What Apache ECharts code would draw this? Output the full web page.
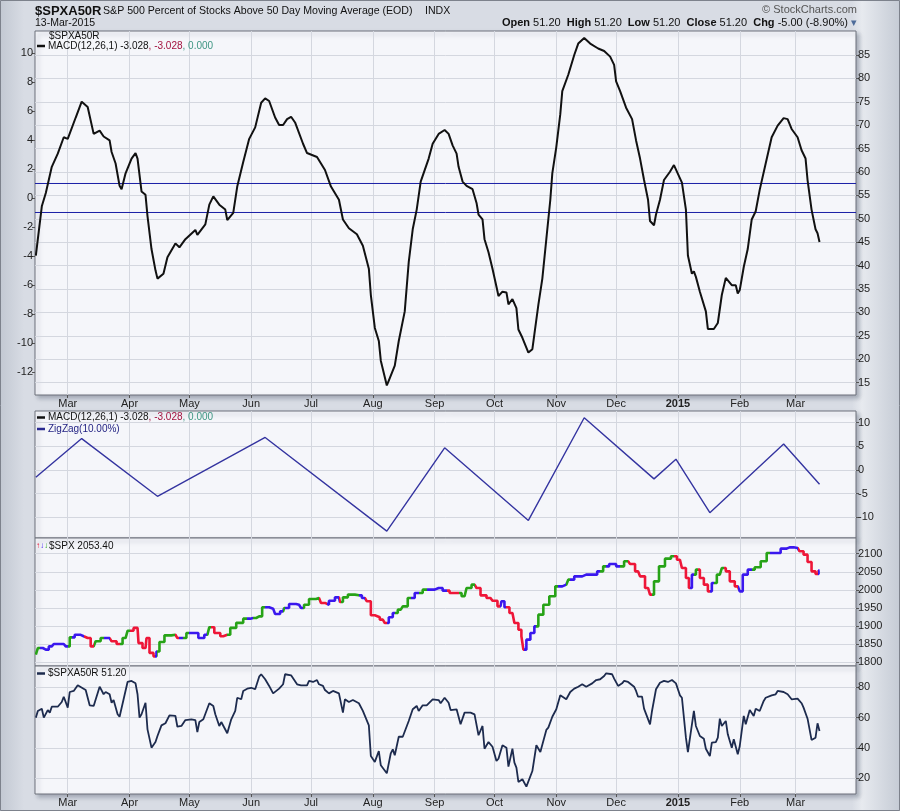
<!DOCTYPE html>
<html><head><meta charset="utf-8">
<script src="https://cdn.jsdelivr.net/npm/echarts@6/dist/echarts.min.js"></script>
<style>
html,body{margin:0;padding:0;}
#c{width:900px;height:811px;background:linear-gradient(to right,#c2c8d2 0px,#d8dce4 24px,#d8dce4 852px,#e7eaef 862px,#c5cbd5 900px);}
</style></head><body><div id="c"></div>
<script>
// ---------- tick labels ----------
const monthTicks = ['2014-03-01','2014-04-01','2014-05-01','2014-06-01','2014-07-01','2014-08-01','2014-09-01','2014-10-01','2014-11-01','2014-12-01','2015-01-01','2015-02-01','2015-03-01'];
const monthNames = ['Jan','Feb','Mar','Apr','May','Jun','Jul','Aug','Sep','Oct','Nov','Dec'];
const macdTicks = [-12,-10,-8,-6,-4,-2,0,2,4,6,8,10];
const pctTicksTop = [15,20,25,30,35,40,45,50,55,60,65,70,75,80,85];
const zigTicks = [-10,-5,0,5,10];
const spxTicks = [1800,1850,1900,1950,2000,2050,2100];
const pctTicks = [20,40,60,80];
const macdLevels = [1, -1];

// ---------- MACD(12,26,1) of $SPXA50R ----------
const macdDates = ['2014-02-13','2014-02-16','2014-02-18','2014-02-21','2014-02-24','2014-02-27','2014-03-01','2014-03-05','2014-03-08','2014-03-11','2014-03-14','2014-03-15','2014-03-17','2014-03-19','2014-03-22','2014-03-23','2014-03-25','2014-03-27','2014-03-28','2014-03-30','2014-04-02','2014-04-04','2014-04-05','2014-04-07','2014-04-09','2014-04-10','2014-04-12','2014-04-14','2014-04-15','2014-04-18','2014-04-20','2014-04-24','2014-04-26','2014-04-29','2014-05-04','2014-05-05','2014-05-09','2014-05-11','2014-05-13','2014-05-14','2014-05-16','2014-05-19','2014-05-20','2014-05-21','2014-05-23','2014-05-25','2014-05-28','2014-05-31','2014-06-03','2014-06-06','2014-06-08','2014-06-10','2014-06-13','2014-06-15','2014-06-17','2014-06-19','2014-06-21','2014-06-23','2014-06-27','2014-06-29','2014-07-04','2014-07-08','2014-07-11','2014-07-15','2014-07-17','2014-07-20','2014-07-24','2014-07-27','2014-07-30','2014-07-31','2014-08-02','2014-08-04','2014-08-05','2014-08-08','2014-08-09','2014-08-12','2014-08-14','2014-08-17','2014-08-19','2014-08-21','2014-08-23','2014-08-25','2014-08-29','2014-08-31','2014-09-03','2014-09-04','2014-09-06','2014-09-08','2014-09-10','2014-09-12','2014-09-13','2014-09-15','2014-09-17','2014-09-20','2014-09-22','2014-09-23','2014-09-25','2014-09-26','2014-09-28','2014-09-30','2014-10-02','2014-10-03','2014-10-05','2014-10-07','2014-10-08','2014-10-10','2014-10-12','2014-10-13','2014-10-15','2014-10-18','2014-10-20','2014-10-21','2014-10-23','2014-10-25','2014-10-27','2014-10-29','2014-10-30','2014-11-01','2014-11-03','2014-11-04','2014-11-07','2014-11-10','2014-11-12','2014-11-15','2014-11-18','2014-11-22','2014-11-25','2014-11-28','2014-11-30','2014-12-01','2014-12-03','2014-12-06','2014-12-09','2014-12-11','2014-12-13','2014-12-15','2014-12-17','2014-12-18','2014-12-20','2014-12-21','2014-12-23','2014-12-25','2014-12-28','2014-12-30','2014-12-31','2015-01-03','2015-01-05','2015-01-06','2015-01-08','2015-01-09','2015-01-10','2015-01-12','2015-01-15','2015-01-16','2015-01-19','2015-01-21','2015-01-23','2015-01-25','2015-01-26','2015-01-28','2015-01-30','2015-01-31','2015-02-01','2015-02-03','2015-02-05','2015-02-07','2015-02-09','2015-02-11','2015-02-14','2015-02-17','2015-02-20','2015-02-23','2015-02-25','2015-02-27','2015-03-02','2015-03-04','2015-03-06','2015-03-07','2015-03-09','2015-03-11','2015-03-12','2015-03-13'];
const macdValues = [-3.97,-0.57,0.34,2.15,3.06,4.19,4.08,5.55,6.64,6.28,4.42,4.31,4.65,4.24,3.97,3.17,2.38,0.84,0.61,1.70,2.72,3.10,2.72,0.45,0.22,-1.25,-3.52,-4.99,-5.56,-5.22,-4.08,-3.13,-3.40,-2.84,-2.20,-2.54,-1.82,-0.46,0.11,0.11,-0.46,-0.80,-1.52,-1.54,-1.02,0.79,2.49,4.08,4.87,6.57,6.87,6.69,5.55,5.03,5.03,5.44,5.60,5.21,3.74,3.10,2.83,1.93,0.79,-0.12,-1.48,-2.09,-2.50,-3.29,-4.88,-6.69,-8.96,-9.86,-11.22,-12.93,-12.59,-11.56,-9.86,-7.82,-4.42,-2.16,-0.80,1.13,2.72,3.74,4.42,4.46,4.69,4.42,3.63,3.06,2.15,1.13,0.84,0.61,-0.34,-1.14,-1.48,-2.84,-3.74,-4.88,-6.12,-6.76,-6.46,-6.51,-7.33,-6.97,-7.60,-9.07,-9.64,-10.66,-10.43,-9.41,-7.37,-5.56,-2.84,-0.12,1.70,3.51,5.78,7.37,8.50,9.86,10.65,11.04,10.65,10.31,10.14,9.75,9.18,8.05,7.37,6.23,5.44,3.97,2.72,1.24,-0.12,-1.59,-1.88,-1.14,-0.12,1.24,1.81,2.27,2.27,1.06,-0.80,-3.97,-5.22,-5.06,-5.44,-6.46,-7.82,-9.03,-9.03,-8.62,-6.69,-5.51,-5.51,-6.01,-6.01,-6.58,-6.35,-4.76,-3.52,-1.48,-0.91,0.56,2.38,4.19,4.99,5.51,5.44,4.76,4.19,3.29,2.72,1.24,-0.80,-2.16,-2.43,-3.03];

// ---------- ZigZag(10%) of the MACD ----------
const zigDates = ['2014-02-13','2014-03-08','2014-04-15','2014-06-08','2014-08-08','2014-09-06','2014-10-18','2014-11-15','2014-12-20','2014-12-31','2015-01-17','2015-02-23','2015-03-13'];
const zigValues = [-1.55,6.64,-5.56,6.87,-12.93,4.69,-10.66,11.04,-1.88,2.27,-9.03,5.51,-3.03];

// ---------- $SPX (impulse: u = up, d = down, n = neutral) ----------
const spxDates = ['2014-02-13','2014-02-15','2014-02-18','2014-02-21','2014-02-23','2014-02-27','2014-03-01','2014-03-03','2014-03-06','2014-03-09','2014-03-11','2014-03-14','2014-03-16','2014-03-19','2014-03-22','2014-03-24','2014-03-27','2014-03-30','2014-04-01','2014-04-05','2014-04-06','2014-04-09','2014-04-10','2014-04-12','2014-04-14','2014-04-15','2014-04-17','2014-04-20','2014-04-24','2014-04-26','2014-04-28','2014-05-01','2014-05-04','2014-05-07','2014-05-10','2014-05-12','2014-05-15','2014-05-18','2014-05-20','2014-05-23','2014-05-26','2014-05-30','2014-06-02','2014-06-05','2014-06-08','2014-06-12','2014-06-14','2014-06-17','2014-06-18','2014-06-22','2014-06-25','2014-06-27','2014-06-28','2014-07-02','2014-07-05','2014-07-07','2014-07-09','2014-07-11','2014-07-15','2014-07-16','2014-07-18','2014-07-21','2014-07-25','2014-07-28','2014-07-30','2014-08-01','2014-08-03','2014-08-06','2014-08-08','2014-08-10','2014-08-12','2014-08-15','2014-08-17','2014-08-20','2014-08-24','2014-08-28','2014-08-30','2014-09-03','2014-09-07','2014-09-10','2014-09-13','2014-09-16','2014-09-18','2014-09-21','2014-09-23','2014-09-25','2014-09-29','2014-10-01','2014-10-04','2014-10-05','2014-10-07','2014-10-10','2014-10-12','2014-10-14','2014-10-15','2014-10-16','2014-10-18','2014-10-20','2014-10-22','2014-10-24','2014-10-27','2014-10-30','2014-11-02','2014-11-06','2014-11-08','2014-11-12','2014-11-16','2014-11-20','2014-11-23','2014-11-26','2014-11-29','2014-12-03','2014-12-07','2014-12-09','2014-12-12','2014-12-14','2014-12-17','2014-12-19','2014-12-21','2014-12-24','2014-12-27','2014-12-30','2015-01-02','2015-01-04','2015-01-06','2015-01-07','2015-01-09','2015-01-11','2015-01-13','2015-01-15','2015-01-17','2015-01-19','2015-01-22','2015-01-24','2015-01-26','2015-01-28','2015-01-31','2015-02-02','2015-02-03','2015-02-07','2015-02-10','2015-02-13','2015-02-16','2015-02-20','2015-02-23','2015-02-26','2015-03-02','2015-03-04','2015-03-06','2015-03-08','2015-03-10','2015-03-12','2015-03-13'];
const spxClose = [1821,1839.5,1835,1844,1850.6,1850.6,1844,1869,1876,1872,1867,1844,1858,1867,1867,1858,1850.6,1867,1887,1895,1853,1839.5,1867,1826,1816.5,1830,1856,1874.5,1876,1867,1867,1881,1881,1867,1876,1897,1881,1872,1876,1895,1909,1920.6,1922.4,1927,1952,1948.2,1933.5,1940.8,1950,1961,1959,1950,1959,1975,1977.7,1964,1959,1970,1979.5,1966.6,1979.5,1987,1985,1977.7,1968.5,1929.8,1924.3,1917.8,1908.6,1924.3,1936.2,1945.4,1954.6,1977.7,1991.5,2000.7,2000.7,2005.3,1998,1991.5,1991.5,1982.3,2005.3,2014.5,2005.3,1985,1977.7,1970,1954.6,1968.5,1952,1936.2,1908.6,1890,1871.8,1835,1862.6,1881,1899.4,1931.6,1959,1982.3,2009.9,2014.5,2028.3,2037.5,2042.1,2042.1,2051.3,2065.1,2071.6,2065.1,2079,2071.6,2051.3,2037.5,2005.3,1986.9,2023.7,2065.1,2086.3,2092.8,2083.5,2060.5,2033,2005.3,2042.1,2055.9,2033,2014.5,1996,2019,2042.1,2060.5,2051.3,2023.7,2009.9,1996,2042.1,2055.9,2062.4,2079,2102,2102,2114,2117.6,2115.8,2106.6,2097.4,2077.1,2051.3,2044,2053.4];
const spxImpulse = ['u','u','n','n','n','n','n','u','n','n','d','d','u','u','n','d','d','u','u','d','d','d','d','d','d','n','u','u','u','d','n','u','n','n','n','u','d','d','d','u','u','u','n','u','u','n','n','n','u','n','n','n','u','u','u','d','d','n','n','d','u','u','u','n','d','d','d','d','d','n','n','u','u','u','n','u','n','n','n','d','d','u','u','u','d','d','d','d','d','n','n','d','d','d','d','d','n','n','n','u','u','u','u','n','u','n','n','n','n','u','n','n','u','d','d','d','d','d','u','u','u','u','d','d','d','d','n','u','d','d','d','n','u','u','d','d','d','n','n','n','u','u','u','n','n','n','n','d','d','d','d','d','n'];

// ---------- $SPXA50R ----------
const pctDates = ['2014-02-13','2014-02-14','2014-02-16','2014-02-17','2014-02-19','2014-02-20','2014-02-21','2014-02-24','2014-02-26','2014-02-27','2014-03-01','2014-03-02','2014-03-04','2014-03-06','2014-03-07','2014-03-10','2014-03-12','2014-03-14','2014-03-17','2014-03-19','2014-03-20','2014-03-22','2014-03-23','2014-03-24','2014-03-26','2014-03-27','2014-03-31','2014-04-02','2014-04-04','2014-04-05','2014-04-06','2014-04-07','2014-04-09','2014-04-10','2014-04-12','2014-04-14','2014-04-15','2014-04-17','2014-04-19','2014-04-21','2014-04-24','2014-04-25','2014-04-27','2014-04-29','2014-05-02','2014-05-04','2014-05-05','2014-05-06','2014-05-08','2014-05-09','2014-05-11','2014-05-13','2014-05-14','2014-05-16','2014-05-17','2014-05-18','2014-05-20','2014-05-22','2014-05-24','2014-05-25','2014-05-27','2014-05-28','2014-05-30','2014-06-01','2014-06-03','2014-06-05','2014-06-06','2014-06-08','2014-06-10','2014-06-12','2014-06-15','2014-06-17','2014-06-18','2014-06-21','2014-06-24','2014-06-26','2014-06-27','2014-06-29','2014-06-30','2014-07-02','2014-07-04','2014-07-05','2014-07-07','2014-07-08','2014-07-10','2014-07-12','2014-07-15','2014-07-16','2014-07-17','2014-07-18','2014-07-20','2014-07-22','2014-07-25','2014-07-27','2014-07-30','2014-07-31','2014-08-02','2014-08-04','2014-08-05','2014-08-06','2014-08-08','2014-08-10','2014-08-11','2014-08-12','2014-08-14','2014-08-16','2014-08-19','2014-08-21','2014-08-23','2014-08-24','2014-08-26','2014-08-28','2014-08-31','2014-09-03','2014-09-04','2014-09-06','2014-09-08','2014-09-09','2014-09-12','2014-09-14','2014-09-15','2014-09-16','2014-09-17','2014-09-19','2014-09-21','2014-09-23','2014-09-25','2014-09-26','2014-09-28','2014-09-30','2014-10-02','2014-10-03','2014-10-05','2014-10-07','2014-10-08','2014-10-10','2014-10-11','2014-10-12','2014-10-13','2014-10-15','2014-10-17','2014-10-18','2014-10-20','2014-10-22','2014-10-24','2014-10-27','2014-10-28','2014-10-30','2014-10-31','2014-11-01','2014-11-03','2014-11-04','2014-11-06','2014-11-08','2014-11-10','2014-11-12','2014-11-14','2014-11-16','2014-11-19','2014-11-21','2014-11-23','2014-11-25','2014-11-26','2014-11-29','2014-11-30','2014-12-02','2014-12-04','2014-12-05','2014-12-07','2014-12-08','2014-12-10','2014-12-11','2014-12-12','2014-12-14','2014-12-15','2014-12-18','2014-12-19','2014-12-21','2014-12-23','2014-12-25','2014-12-27','2014-12-29','2014-12-31','2015-01-02','2015-01-03','2015-01-05','2015-01-06','2015-01-09','2015-01-10','2015-01-12','2015-01-14','2015-01-15','2015-01-17','2015-01-18','2015-01-20','2015-01-21','2015-01-22','2015-01-23','2015-01-25','2015-01-26','2015-01-28','2015-01-29','2015-01-31','2015-02-01','2015-02-03','2015-02-04','2015-02-06','2015-02-08','2015-02-09','2015-02-11','2015-02-13','2015-02-14','2015-02-17','2015-02-19','2015-02-20','2015-02-23','2015-02-25','2015-02-27','2015-02-28','2015-03-02','2015-03-04','2015-03-05','2015-03-06','2015-03-07','2015-03-08','2015-03-09','2015-03-11','2015-03-12','2015-03-13'];
const pctValues = [60.0,64.4,65.9,60.0,65.0,63.3,67.2,67.2,70.3,73.8,66.6,76.9,77.6,81.3,80.9,78.2,68.1,67.7,80.4,75.4,76.9,75.4,69.8,71.6,62.2,60.6,83.5,84.2,82.6,75.4,60.0,62.2,69.8,52.3,40.2,43.9,47.9,54.9,56.3,61.5,61.1,54.0,54.5,58.4,58.9,58.4,50.5,57.1,58.9,59.3,69.5,67.7,62.2,54.5,57.1,57.1,49.7,58.9,64.4,73.1,72.1,77.6,79.1,79.7,78.7,87.0,88.6,85.3,80.9,76.0,79.1,82.0,88.6,87.9,82.0,81.3,80.4,81.3,84.2,83.5,84.8,82.0,80.9,78.2,76.0,77.6,76.0,75.4,63.3,72.1,70.3,71.6,69.5,64.4,54.9,34.7,30.8,38.0,28.6,29.2,23.3,36.5,39.1,35.2,47.4,47.4,57.8,65.5,67.7,64.4,68.1,68.1,72.1,71.6,69.5,73.1,69.8,65.0,65.5,55.6,56.7,63.3,62.2,63.3,62.2,48.4,54.5,39.5,43.9,40.8,31.4,32.9,41.8,40.2,27.7,39.5,30.3,27.0,17.6,19.4,14.5,14.5,24.8,41.8,37.3,51.9,53.4,60.6,61.1,65.5,74.7,76.0,72.1,76.9,79.1,80.4,82.0,80.4,82.6,84.8,85.3,87.4,89.2,88.6,85.7,80.9,82.6,84.2,83.5,84.2,80.4,77.6,73.8,73.8,65.9,55.6,64.4,78.7,83.0,84.2,83.5,84.8,82.6,74.7,73.1,46.8,37.3,64.4,54.5,47.9,46.1,39.5,34.7,43.5,43.9,46.8,59.3,54.5,57.8,49.0,40.2,45.7,35.8,41.3,61.1,55.6,65.0,61.1,65.9,64.4,71.0,73.1,74.7,75.4,77.6,76.9,75.4,72.1,71.0,72.5,69.5,66.6,67.2,59.3,60.0,45.3,46.8,56.3,51.2];

// ---------- build ----------
const FONT = '"Liberation Sans", Arial, sans-serif';
const ts = s => Date.parse(s + 'T00:00:00Z');
const pairs = (d, v) => d.map((s, i) => [ts(s), v[i]]);
const xMin = Date.UTC(2014, 1, 12, 14);
const xMax = Date.UTC(2015, 2, 31, 7);
const monthTs = monthTicks.map(ts);

function xAxisFor(g, showLabels) {
  return {
    type: 'value', gridIndex: g, min: xMin, max: xMax, position: 'bottom',
    axisLine: { show: false, onZero: false },
    axisTick: { show: showLabels, customValues: monthTs, length: 3, lineStyle: { color: '#555' } },
    axisLabel: {
      show: showLabels, customValues: monthTs, margin: 3, fontSize: 11, color: '#222', fontFamily: FONT,
      formatter: v => { const d = new Date(v); const m = d.getUTCMonth(); return m === 0 ? '{b|' + d.getUTCFullYear() + '}' : monthNames[m]; },
      rich: { b: { fontWeight: 'bold', fontSize: 11, fontFamily: FONT, color: '#222' } }
    },
    splitLine: { show: true, lineStyle: { color: '#d4d7df', width: 1 } }
  };
}
function yAxisFor(g, pos, min, max, ticks, split) {
  return {
    type: 'value', gridIndex: g, position: pos, min: min, max: max,
    axisLine: { show: false, onZero: false },
    axisTick: { show: true, customValues: ticks, length: 3, lineStyle: { color: '#555' } },
    axisLabel: { customValues: ticks, margin: 2, fontSize: 11, color: '#222', fontFamily: FONT, formatter: v => String(v) },
    splitLine: { show: split, lineStyle: { color: '#d4d7df', width: 1 } }
  };
}
const gridBase = { show: true, backgroundColor: '#f5f6fa', borderColor: '#6c707a', borderWidth: 1,
  shadowColor: 'rgba(70,80,100,0.35)', shadowBlur: 4, shadowOffsetX: 3, shadowOffsetY: 3,
  containLabel: false, outerBoundsMode: 'none' };

const impulseColor = { u: '#27a317', d: '#ee1638', n: '#3a18ee' };
const pieces = [];
spxDates.forEach((s, i) => {
  const t = ts(s), c = impulseColor[spxImpulse[i]];
  const prev = i ? ts(spxDates[i - 1]) : xMin - 1;
  if (pieces.length && pieces[pieces.length - 1].color === c) pieces[pieces.length - 1].lte = t;
  else pieces.push({ gt: prev, lte: t, color: c });
});
pieces[pieces.length - 1].lte = xMax + 1;

const legendRich = {
  r: { fill: '#a3123f', font: '10px ' + FONT },
  g: { fill: '#3f9683', font: '10px ' + FONT }
};
const dash = (y, color) => ({ type: 'line', shape: { x1: 37, y1: y, x2: 45, y2: y }, style: { stroke: color, lineWidth: 2.5 }, z: 100 });
const txt = (x, y, text, extra) => ({ type: 'text', z: 100, style: Object.assign({ x: x, y: y, text: text, font: '10px ' + FONT, fill: '#111', textVerticalAlign: 'middle' }, extra || {}) });
const NAVY = '#1a1fa6';

const levelSeries = macdLevels.map(v => ({
  type: 'line', xAxisIndex: 0, yAxisIndex: 0, data: [[xMin, v], [xMax, v]], symbol: 'none', z: 2,
  silent: true, color: NAVY, lineStyle: { color: NAVY, width: 1 }
}));

const chart = echarts.init(document.getElementById('c'), null, { renderer: 'canvas' });
chart.setOption({
  animation: false,
  backgroundColor: 'transparent',
  grid: [
    Object.assign({ left: 35, top: 31, width: 821, height: 364 }, gridBase),
    Object.assign({ left: 35, top: 411, width: 821, height: 127 }, gridBase),
    Object.assign({ left: 35, top: 538, width: 821, height: 128 }, gridBase),
    Object.assign({ left: 35, top: 666, width: 821, height: 128 }, gridBase)
  ],
  xAxis: [xAxisFor(0, true), xAxisFor(1, false), xAxisFor(2, false), xAxisFor(3, true)],
  yAxis: [
    yAxisFor(0, 'left', -13.586, 11.517, macdTicks, false),
    yAxisFor(0, 'right', 12.35, 90.13, pctTicksTop, true),
    yAxisFor(1, 'right', -14.38, 12.47, zigTicks, true),
    yAxisFor(2, 'right', 1789.8, 2143.4, spxTicks, true),
    yAxisFor(3, 'right', 9.66, 94.04, pctTicks, true)
  ],
  visualMap: { type: 'piecewise', show: false, dimension: 0, seriesIndex: 2, pieces: pieces },
  series: [
    { type: 'line', xAxisIndex: 0, yAxisIndex: 0, data: pairs(macdDates, macdValues), symbol: 'none',
      lineStyle: { color: '#111', width: 2 }, itemStyle: { color: '#111' }, z: 3 },
    { type: 'line', xAxisIndex: 1, yAxisIndex: 2, data: pairs(zigDates, zigValues), symbol: 'none',
      lineStyle: { color: '#3434a0', width: 1.4 } },
    { type: 'line', xAxisIndex: 2, yAxisIndex: 3, data: pairs(spxDates, spxClose), symbol: 'none',
      step: 'middle', lineStyle: { width: 2.6 } },
    { type: 'line', xAxisIndex: 3, yAxisIndex: 4, data: pairs(pctDates, pctValues), symbol: 'none',
      lineStyle: { color: '#1d2b4e', width: 1.8 } }
  ].concat(levelSeries),
  graphic: { elements: [
    { type: 'rect', shape: { x: 0.5, y: 0.5, width: 899, height: 810 }, style: { fill: 'none', stroke: '#7d828c', lineWidth: 1 }, z: 100 },
    txt(35, 11, '$SPXA50R', { font: 'bold 13px ' + FONT }),
    txt(103, 11, 'S&P 500 Percent of Stocks Above 50 Day Moving Average (EOD)', { font: '10.6px ' + FONT }),
    txt(425, 11, 'INDX', { font: '10.6px ' + FONT }),
    txt(35, 23, '13-Mar-2015', { font: '10.5px ' + FONT }),
    txt(857, 10, '\u00a9 StockCharts.com', { font: '11px ' + FONT, fill: '#555', textAlign: 'right' }),
    txt(857, 23, '{b|Open} 51.20  {b|High} 51.20  {b|Low} 51.20  {b|Close} 51.20  {b|Chg} -5.00 (-8.90%) {t|\u25BE}',
      { font: '11px ' + FONT, textAlign: 'right', rich: { b: { font: 'bold 11px ' + FONT, fill: '#111' }, t: { font: '11px ' + FONT, fill: '#4d6b9a' } } }),
    // panel 1 legend
    txt(49, 36, '$SPXA50R'),
    dash(46, '#111'),
    txt(48, 46, 'MACD(12,26,1) -3.028{r|, -3.028}{g|, 0.000}', { rich: legendRich }),
    // panel 2 legend
    dash(417.5, '#111'),
    txt(48, 417.5, 'MACD(12,26,1) -3.028{r|, -3.028}{g|, 0.000}', { rich: legendRich }),
    dash(429, '#2a2a90'),
    txt(48, 429, 'ZigZag(10.00%)', { fill: '#1e1e80' }),
    // panel 3 legend
    txt(36, 546, '{r|\u2191}{b|\u2193}{g|\u2193}', { rich: {
      r: { fill: '#ee1638', font: 'bold 8px ' + FONT }, b: { fill: '#3a18ee', font: 'bold 8px ' + FONT }, g: { fill: '#27a317', font: 'bold 8px ' + FONT } } }),
    txt(49, 546, '$SPX 2053.40'),
    // panel 4 legend
    dash(673.5, '#1d2b4e'),
    txt(48, 673.5, '$SPXA50R 51.20')
  ] }
});
</script></body></html>
